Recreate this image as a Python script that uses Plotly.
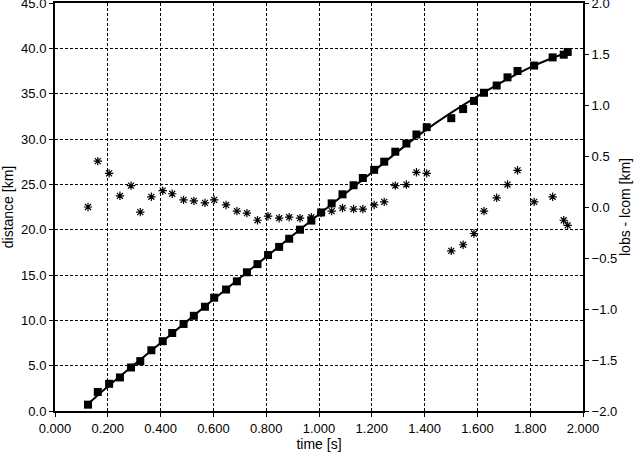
import plotly.graph_objects as go

# measured distances (squares)
t_obs = [0.125, 0.162, 0.205, 0.246, 0.288, 0.323, 0.365, 0.408, 0.444, 0.487,
         0.526, 0.568, 0.603, 0.648, 0.689, 0.727, 0.767, 0.807, 0.849, 0.887,
         0.928, 0.971, 1.008, 1.048, 1.089, 1.131, 1.166, 1.209, 1.247, 1.289,
         1.331, 1.369, 1.408, 1.501, 1.546, 1.587, 1.625, 1.673, 1.714, 1.752,
         1.815, 1.885, 1.927, 1.942]
d_obs = [0.7, 2.1, 3.0, 3.7, 4.8, 5.5, 6.7, 7.7, 8.6, 9.6,
         10.5, 11.5, 12.5, 13.4, 14.3, 15.3, 16.2, 17.2, 18.1, 19.0,
         20.0, 21.0, 21.9, 22.9, 23.9, 24.9, 25.7, 26.6, 27.5, 28.6,
         29.5, 30.5, 31.3, 32.3, 33.3, 34.2, 35.1, 35.9, 36.8, 37.5,
         38.1, 39.0, 39.3, 39.6]

# residuals lobs - lcom (asterisks, right axis)
resid = [0.00, 0.45, 0.33, 0.11, 0.21, -0.05, 0.10, 0.16, 0.13, 0.07,
         0.06, 0.04, 0.07, 0.02, -0.04, -0.06, -0.13, -0.09, -0.11, -0.10,
         -0.11, -0.10, -0.06, -0.04, -0.01, -0.02, -0.02, 0.02, 0.05, 0.21,
         0.22, 0.34, 0.33, -0.43, -0.37, -0.26, -0.04, 0.09, 0.22, 0.36,
         0.05, 0.10, -0.13, -0.18]

# fitted curve
t_fit = [0.115, 0.2, 0.4, 0.6, 0.8, 1.0, 1.2, 1.4, 1.6, 1.8, 1.945]
d_fit = [0.5, 2.7, 7.5, 12.3, 17.0, 21.7, 26.3, 30.9, 34.7, 37.9, 39.6]

font = dict(family="Liberation Sans, Arial, sans-serif", size=13, color="black")

fig = go.Figure()
fig.add_trace(go.Scatter(x=t_fit, y=d_fit, mode="lines",
                         line=dict(color="black", width=2, shape="spline"),
                         showlegend=False))
fig.add_trace(go.Scatter(x=t_obs, y=d_obs, mode="markers",
                         marker=dict(symbol="square", size=8, color="black"),
                         showlegend=False))
fig.add_trace(go.Scatter(x=t_obs, y=resid, mode="markers", yaxis="y2",
                         marker=dict(symbol="asterisk-open", size=7, color="black",
                                     line=dict(color="black", width=1.2)),
                         showlegend=False))

common = dict(showline=True, linecolor="black", linewidth=2,
              ticks="outside", ticklen=4, tickcolor="black",
              zeroline=False, automargin=False, ticklabeloverflow="allow")
grid = dict(showgrid=True, gridcolor="black", griddash="3px,2px", gridwidth=1)

fig.update_layout(
    width=638, height=455,
    margin=dict(l=55, r=55, t=3, b=44),
    plot_bgcolor="white", paper_bgcolor="white",
    font=font,
    xaxis=dict(range=[0, 2], dtick=0.2, tickformat=".3f", mirror=True,
               title=dict(text="time [s]", font=dict(size=14), standoff=2),
               **common, **grid),
    yaxis=dict(range=[0, 45], dtick=5, tickformat=".1f",
               title=dict(text="distance [km]", font=dict(size=14), standoff=4),
               **common, **grid),
    yaxis2=dict(range=[-2, 2], dtick=0.5, tickformat=".1f", overlaying="y", side="right",
                title=dict(text="lobs - lcom [km]", font=dict(size=14), standoff=2),
                showgrid=False, **common),
)

# drop the default page margin so the figure sits at the window corner
fig.write_html("out.html", config={"displayModeBar": False},
               post_script="document.body.style.margin='0';")
